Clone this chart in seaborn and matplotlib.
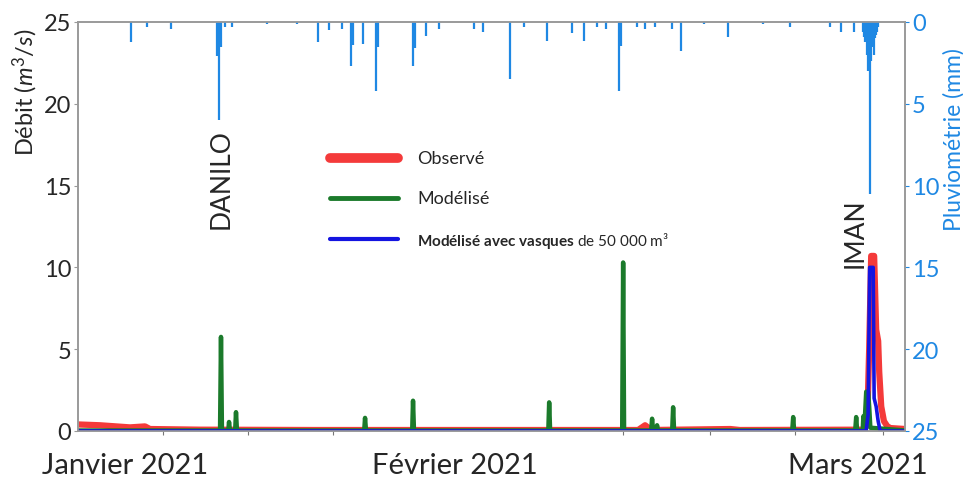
import numpy as np
import pandas as pd
import matplotlib
matplotlib.use("Agg")
import matplotlib.pyplot as plt
import seaborn as sns
from matplotlib.lines import Line2D
from matplotlib import transforms

# ---------------- data (days since 1 Jan 2021) ----------------
obs_day = [0.0, 1.86, 4.40, 5.67, 6.09, 10.3, 20.0, 30.0, 40.0, 47.4, 47.99, 48.5,
           55.2, 56.0, 66.5, 66.78, 66.95, 67.12, 67.37, 67.54, 67.71, 67.80,
           67.97, 68.20, 68.47, 68.73, 70.0]
obs_val = [0.40, 0.35, 0.22, 0.28, 0.12, 0.08, 0.06, 0.06, 0.06, 0.06, 0.35, 0.06,
           0.12, 0.06, 0.08, 0.40, 5.00, 10.70, 10.70, 6.20, 5.50, 3.60,
           1.50, 0.60, 0.30, 0.18, 0.12]

mod_day = [0.0, 12.02, 12.10, 12.18, 12.72, 12.78, 12.86, 13.30, 13.37, 13.45,
           24.22, 24.29, 24.37, 28.28, 28.35, 28.43, 39.80, 39.87, 39.95,
           46.05, 46.13, 46.21, 48.50, 48.58, 48.66, 48.94, 49.00, 49.08,
           50.28, 50.36, 50.44, 60.44, 60.52, 60.60, 65.77, 65.85, 65.93,
           66.40, 66.46, 66.55, 66.70, 66.86, 66.95, 67.05, 70.0]
mod_val = [0.03, 0.03, 5.75, 0.03, 0.03, 0.55, 0.03, 0.03, 1.15, 0.03,
           0.03, 0.80, 0.03, 0.03, 1.85, 0.03, 0.03, 1.75, 0.03,
           0.03, 10.30, 0.03, 0.03, 0.75, 0.03, 0.03, 0.35, 0.03,
           0.03, 1.45, 0.03, 0.03, 0.85, 0.03, 0.03, 0.85, 0.03,
           0.03, 0.90, 0.30, 2.40, 2.40, 1.50, 0.20, 0.03]

vas_day = [0.0, 66.69, 66.86, 66.99, 67.29, 67.37, 67.54, 67.71, 67.88, 70.0]
vas_val = [0.0, 0.0, 1.0, 10.0, 10.0, 2.0, 1.5, 0.6, 0.0, 0.0]

rain_day = [4.49, 5.84, 7.87, 11.76, 11.93, 12.10, 12.44, 13.03, 16.0, 18.5,
            20.31, 21.25, 22.35, 23.11, 23.28, 24.12, 25.22, 25.39, 28.35, 28.52,
            29.46, 30.56, 33.52, 34.28, 36.57, 37.75, 39.70, 41.81, 42.83, 43.93,
            44.69, 45.79, 45.96, 47.31, 47.99, 48.83, 50.27, 51.04, 53.0, 55.02,
            58.0, 60.26, 63.65, 64.58, 65.68,
            66.44, 66.53, 66.61, 66.69, 66.78, 66.86, 66.95, 67.03, 67.12, 67.20,
            67.29, 67.37, 67.46, 67.54, 67.63, 67.71]
rain_mm = [1.2, 0.3, 0.4, 2.1, 6.0, 1.5, 0.3, 0.3, 0.15, 0.15,
           1.2, 0.5, 0.4, 2.7, 1.4, 1.35, 4.2, 1.5, 2.7, 1.6,
           0.85, 0.4, 0.4, 0.6, 3.5, 0.3, 1.15, 0.7, 1.15, 0.3,
           0.4, 4.2, 1.45, 0.3, 0.4, 0.3, 0.4, 1.75, 0.15, 0.9,
           0.15, 0.3, 0.3, 0.6, 0.6,
           0.6, 0.9, 1.2, 0.8, 2.0, 3.0, 2.7, 10.5, 2.4, 1.5,
           1.2, 2.0, 1.0, 0.8, 0.6, 0.3]

month_labels = ["Janvier 2021", "Février 2021", "Mars 2021"]
month_pos = [3.98, 31.9, 66.0]
minor_ticks = [7.2, 14.4, 21.6, 46.1, 53.5, 60.7, 68.1]

# ---------------- style ----------------
sns.set_style("white")
plt.rcParams['font.family'] = ['Lato', 'DejaVu Sans']
plt.rcParams['mathtext.fontset'] = 'custom'
plt.rcParams['mathtext.rm'] = 'Lato'
plt.rcParams['mathtext.it'] = 'Lato:italic'
plt.rcParams['mathtext.bf'] = 'Lato:bold'

RED = "#f43a3a"
GREEN = "#1b7a2b"
BLUE = "#1414e0"
RAIN = "#1f88e3"

fig = plt.figure(figsize=(9.63, 4.85), dpi=100)
ax = fig.add_axes([0.081, 0.1093, 0.859, 0.8433])

df_obs = pd.DataFrame({"day": obs_day, "q": obs_val})
df_mod = pd.DataFrame({"day": mod_day, "q": mod_val})
df_vas = pd.DataFrame({"day": vas_day, "q": vas_val})

sns.lineplot(data=df_obs, x="day", y="q", ax=ax, color=RED, lw=4.5,
             estimator=None, sort=False, solid_capstyle="round", zorder=2)
sns.lineplot(data=df_mod, x="day", y="q", ax=ax, color=GREEN, lw=3.2,
             estimator=None, sort=False, solid_capstyle="round", zorder=3)
sns.lineplot(data=df_vas, x="day", y="q", ax=ax, color=BLUE, lw=2.6,
             estimator=None, sort=False, zorder=4)

ax.set_xlim(0, 70)
ax.set_ylim(0, 25)
ax.set_yticks([0, 5, 10, 15, 20, 25])
ax.tick_params(axis="y", labelsize=17, length=3, color="#999999", pad=2, left=True)
ax.set_xticks(minor_ticks)
ax.set_xticklabels([])
ax.tick_params(axis="x", length=3, color="#777777", bottom=True, direction="out")
ax.set_xlabel("")
ax.set_ylabel(r"Débit ($m^3/s$)", fontsize=17)
ax.yaxis.set_label_coords(-0.046, 0.83)
for s in ax.spines.values():
    s.set_color("#9a9a9a")
    s.set_linewidth(1.2)

# rainfall on inverted twin axis
ax2 = ax.twinx()
ax2.vlines(rain_day, 0, rain_mm, color=RAIN, lw=1.6)
ax2.set_ylim(25, 0)
ax2.set_yticks([0, 5, 10, 15, 20, 25])
ax2.tick_params(axis="y", labelsize=17, colors=RAIN, length=3, pad=2, right=True)
ax2.set_ylabel("Pluviométrie (mm)", fontsize=16.5, color=RAIN)
ax2.yaxis.set_label_coords(1.046, 0.716)
for s in ax2.spines.values():
    s.set_color("#9a9a9a")
    s.set_linewidth(1.2)

# event labels
ax.text(12.1, 12.4, "DANILO", rotation=90, ha="center", va="bottom", fontsize=19)
ax.text(65.8, 10.0, "IMAN", rotation=90, ha="center", va="bottom", fontsize=19)

# month labels
trans = transforms.blended_transform_factory(ax.transData, ax.transAxes)
for lab, pos in zip(month_labels, month_pos):
    ax.text(pos, -0.082, lab, transform=trans, ha="center", va="center", fontsize=21)

# legend
handles = [Line2D([], [], color=RED, lw=7),
           Line2D([], [], color=GREEN, lw=3.5),
           Line2D([], [], color=BLUE, lw=3)]
labels = ["Observé", "Modélisé",
          r"$\mathbf{Modélisé\ avec\ vasques}$ de 50 000 m³"]
leg = fig.legend(handles, labels, loc="upper left", bbox_to_anchor=(0.343, 0.688),
                 frameon=False, fontsize=11, handlelength=4.4, handletextpad=1.3,
                 labelspacing=1.55, borderpad=0, borderaxespad=0)
leg.get_texts()[0].set_fontsize(13)
leg.get_texts()[1].set_fontsize(13)

fig.savefig("out.png", dpi=100)
